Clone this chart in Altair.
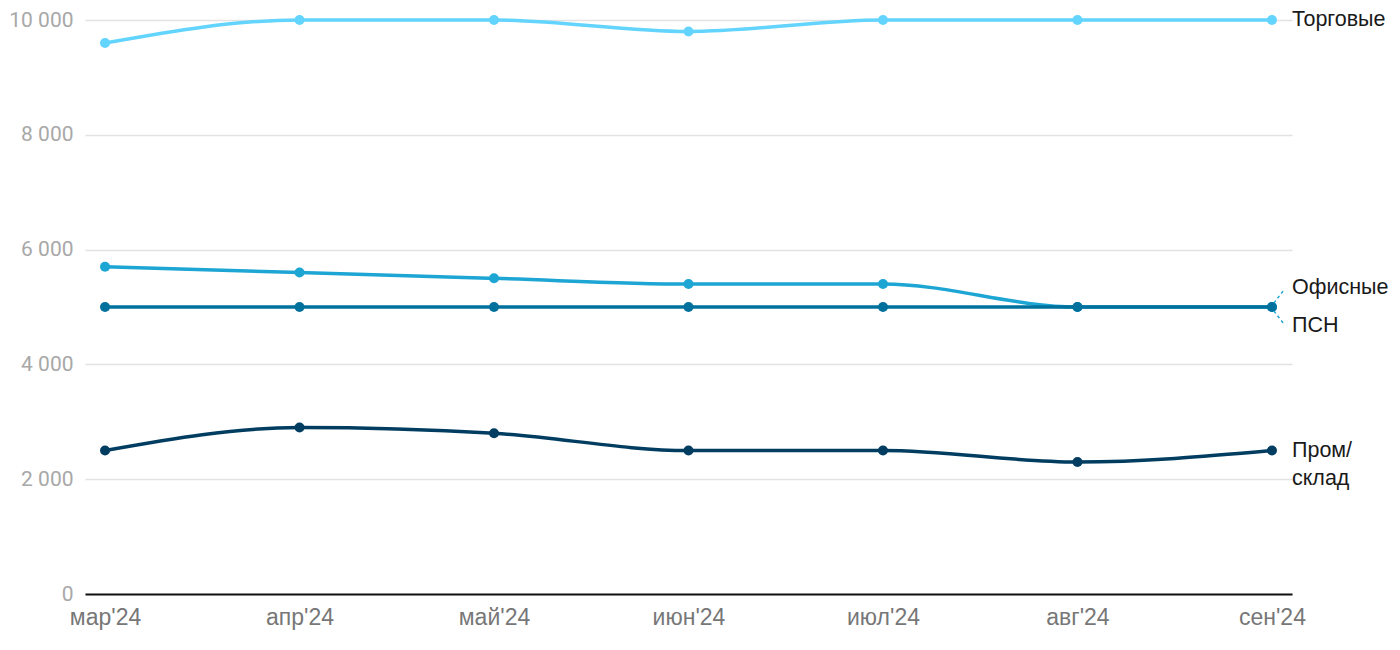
import altair as alt
import pandas as pd

months = ["мар'24", "апр'24", "май'24", "июн'24", "июл'24", "авг'24", "сен'24"]
series_names = ["Торговые", "Офисные", "ПСН", "Пром/склад"]
torg = [9600, 10000, 10000, 9800, 10000, 10000, 10000]
ofis = [5700, 5600, 5500, 5400, 5400, 5000, 5000]
psn = [5000, 5000, 5000, 5000, 5000, 5000, 5000]
prom = [2500, 2900, 2800, 2500, 2500, 2300, 2500]
colors = ["#62d4fd", "#1da5d4", "#00709c", "#003d61"]

label_text = ["Торговые", "Офисные", "ПСН", "Пром/", "склад"]
label_y = [10000, 5330, 4670, 2500, 2000]

conn_x = [6.01, 6.01]
conn_x2 = [6.06, 6.06]
conn_y = [5070, 4930]
conn_y2 = [5290, 4710]

rows = []
for name, vals in zip(series_names, [torg, ofis, psn, prom]):
    for i, v in enumerate(vals):
        rows.append({"series": name, "idx": i, "value": v})
df = pd.DataFrame(rows)

labels_df = pd.DataFrame({"label": label_text, "value": label_y, "idx": [6] * len(label_text)})
conn_df = pd.DataFrame({"x": conn_x, "x2": conn_x2, "y": conn_y, "y2": conn_y2})

month_expr = "[" + ",".join('"' + m + '"' for m in months) + "][round(datum.value)]"

xscale = alt.Scale(domain=[-0.103, 6.103], nice=False, zero=False)
yscale = alt.Scale(domain=[0, 10000], nice=False)

x_enc = alt.X("idx:Q", scale=xscale, axis=alt.Axis(
    values=list(range(len(months))), labelExpr=month_expr, title=None,
    ticks=False, domain=True, domainColor="#111111", domainWidth=2, grid=False,
    labelFont="Liberation Sans", labelFontSize=23, labelColor="#777777", labelPadding=12))
y_enc = alt.Y("value:Q", scale=yscale, axis=alt.Axis(
    values=[0, 2000, 4000, 6000, 8000, 10000], title=None, ticks=False, domain=False,
    labelExpr="replace(format(datum.value, ','), ',', ' ')",
    grid=True, gridColor="#e2e2e2", gridWidth=1.5,
    labelFont="Roboto", labelFontSize=21, labelColor="#a8a8a8", labelPadding=12))

color_enc = alt.Color("series:N", scale=alt.Scale(domain=series_names, range=colors), legend=None)

layers = []
for name in series_names:
    sub = alt.Chart(df[df.series == name])
    layers.append(sub.mark_line(interpolate="monotone", strokeWidth=3.5).encode(
        x=x_enc, y=y_enc, color=color_enc))
    layers.append(sub.mark_circle(size=100, opacity=1).encode(
        x="idx:Q", y="value:Q", color=color_enc))

conn = alt.Chart(conn_df).mark_rule(strokeDash=[3, 3], strokeWidth=1.5, color="#1da5d4").encode(
    x="x:Q", x2="x2", y="y:Q", y2="y2")

labels = alt.Chart(labels_df).mark_text(
    align="left", baseline="middle", dx=20, font="Liberation Sans", fontSize=21.5, color="#1a1a1a"
).encode(x="idx:Q", y="value:Q", text="label:N")

chart = alt.layer(*layers, conn, labels).properties(
    width=1207, height=574,
    autosize=alt.AutoSizeParams(type="none"),
    padding={"left": 77, "top": 12, "right": 100, "bottom": 48},
).configure(background="white").configure_view(stroke=None)

chart.save("out.html", embed_options={"renderer": "svg", "actions": False})
